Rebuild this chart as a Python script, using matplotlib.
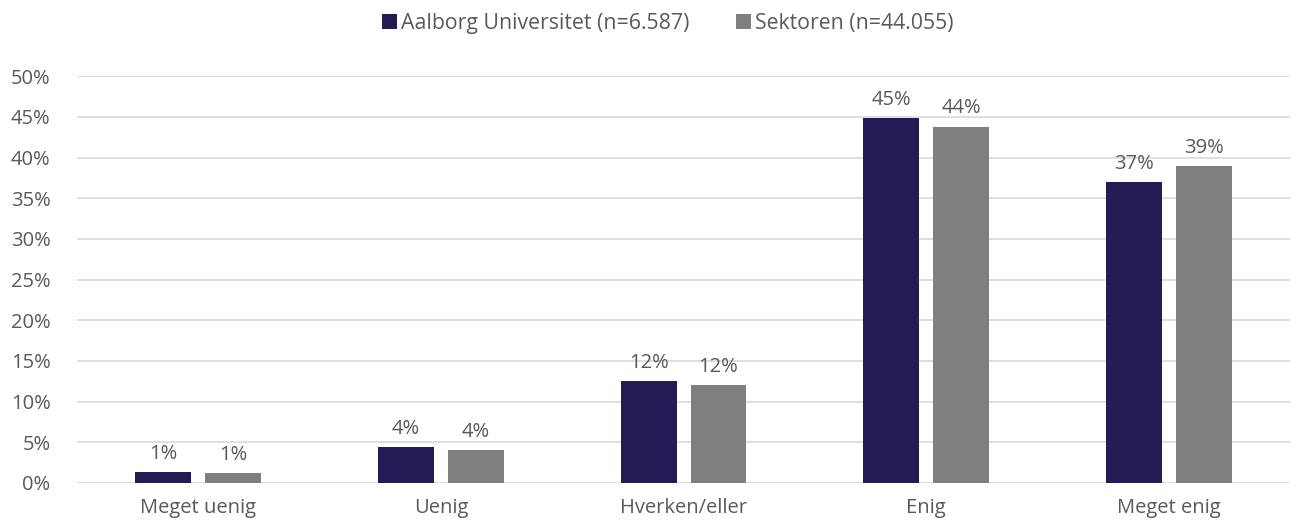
import numpy as np
import matplotlib.pyplot as plt
from matplotlib.ticker import PercentFormatter

plt.rcParams['font.family'] = ['Open Sans', 'DejaVu Sans']

categories = ['Meget uenig', 'Uenig', 'Hverken/eller', 'Enig', 'Meget enig']
aau = [1.3, 4.4, 12.5, 44.8, 37.0]
sektor = [1.2, 4.0, 12.0, 43.8, 38.9]
aau_label = 'Aalborg Universitet (n=6.587)'
sektor_label = 'Sektoren (n=44.055)'

navy = '#231b54'
grey = '#7f7f7f'
txt = '#595959'
fs = 14.5

fig = plt.figure(figsize=(13.02, 5.25), dpi=100)
ax = fig.add_axes([0.059, 0.08, 0.932, 0.775])

x = np.arange(len(categories))
w = 0.23
off = 0.144
b1 = ax.bar(x - off, aau, w, color=navy, label=aau_label, zorder=3)
b2 = ax.bar(x + off, sektor, w, color=grey, label=sektor_label, zorder=3)

for bars, vals in ((b1, aau), (b2, sektor)):
    for b, v in zip(bars, vals):
        ax.text(b.get_x() + b.get_width() / 2, v + 1.0, '%d%%' % round(v),
                ha='center', va='bottom', fontsize=fs, color=txt)

ax.set_xlim(-0.5, len(categories) - 0.5)
ax.set_ylim(0, 50)
ax.set_yticks(range(0, 51, 5))
ax.yaxis.set_major_formatter(PercentFormatter(decimals=0))
ax.set_xticks(x)
ax.set_xticklabels(categories)
ax.tick_params(length=0, labelsize=fs, labelcolor=txt)
ax.tick_params(axis='x', pad=11)
ax.tick_params(axis='y', pad=19)
ax.grid(axis='y', color='#d9d9d9', linewidth=1.2, zorder=0)
for s in ax.spines.values():
    s.set_visible(False)

fig.legend(loc='center', bbox_to_anchor=(0.513, 0.955), ncol=2, frameon=False,
           fontsize=15.3, labelcolor=txt, handlelength=0.7, handleheight=0.7,
           handletextpad=0.2, columnspacing=2.2)

fig.savefig('out.png', dpi=100)
